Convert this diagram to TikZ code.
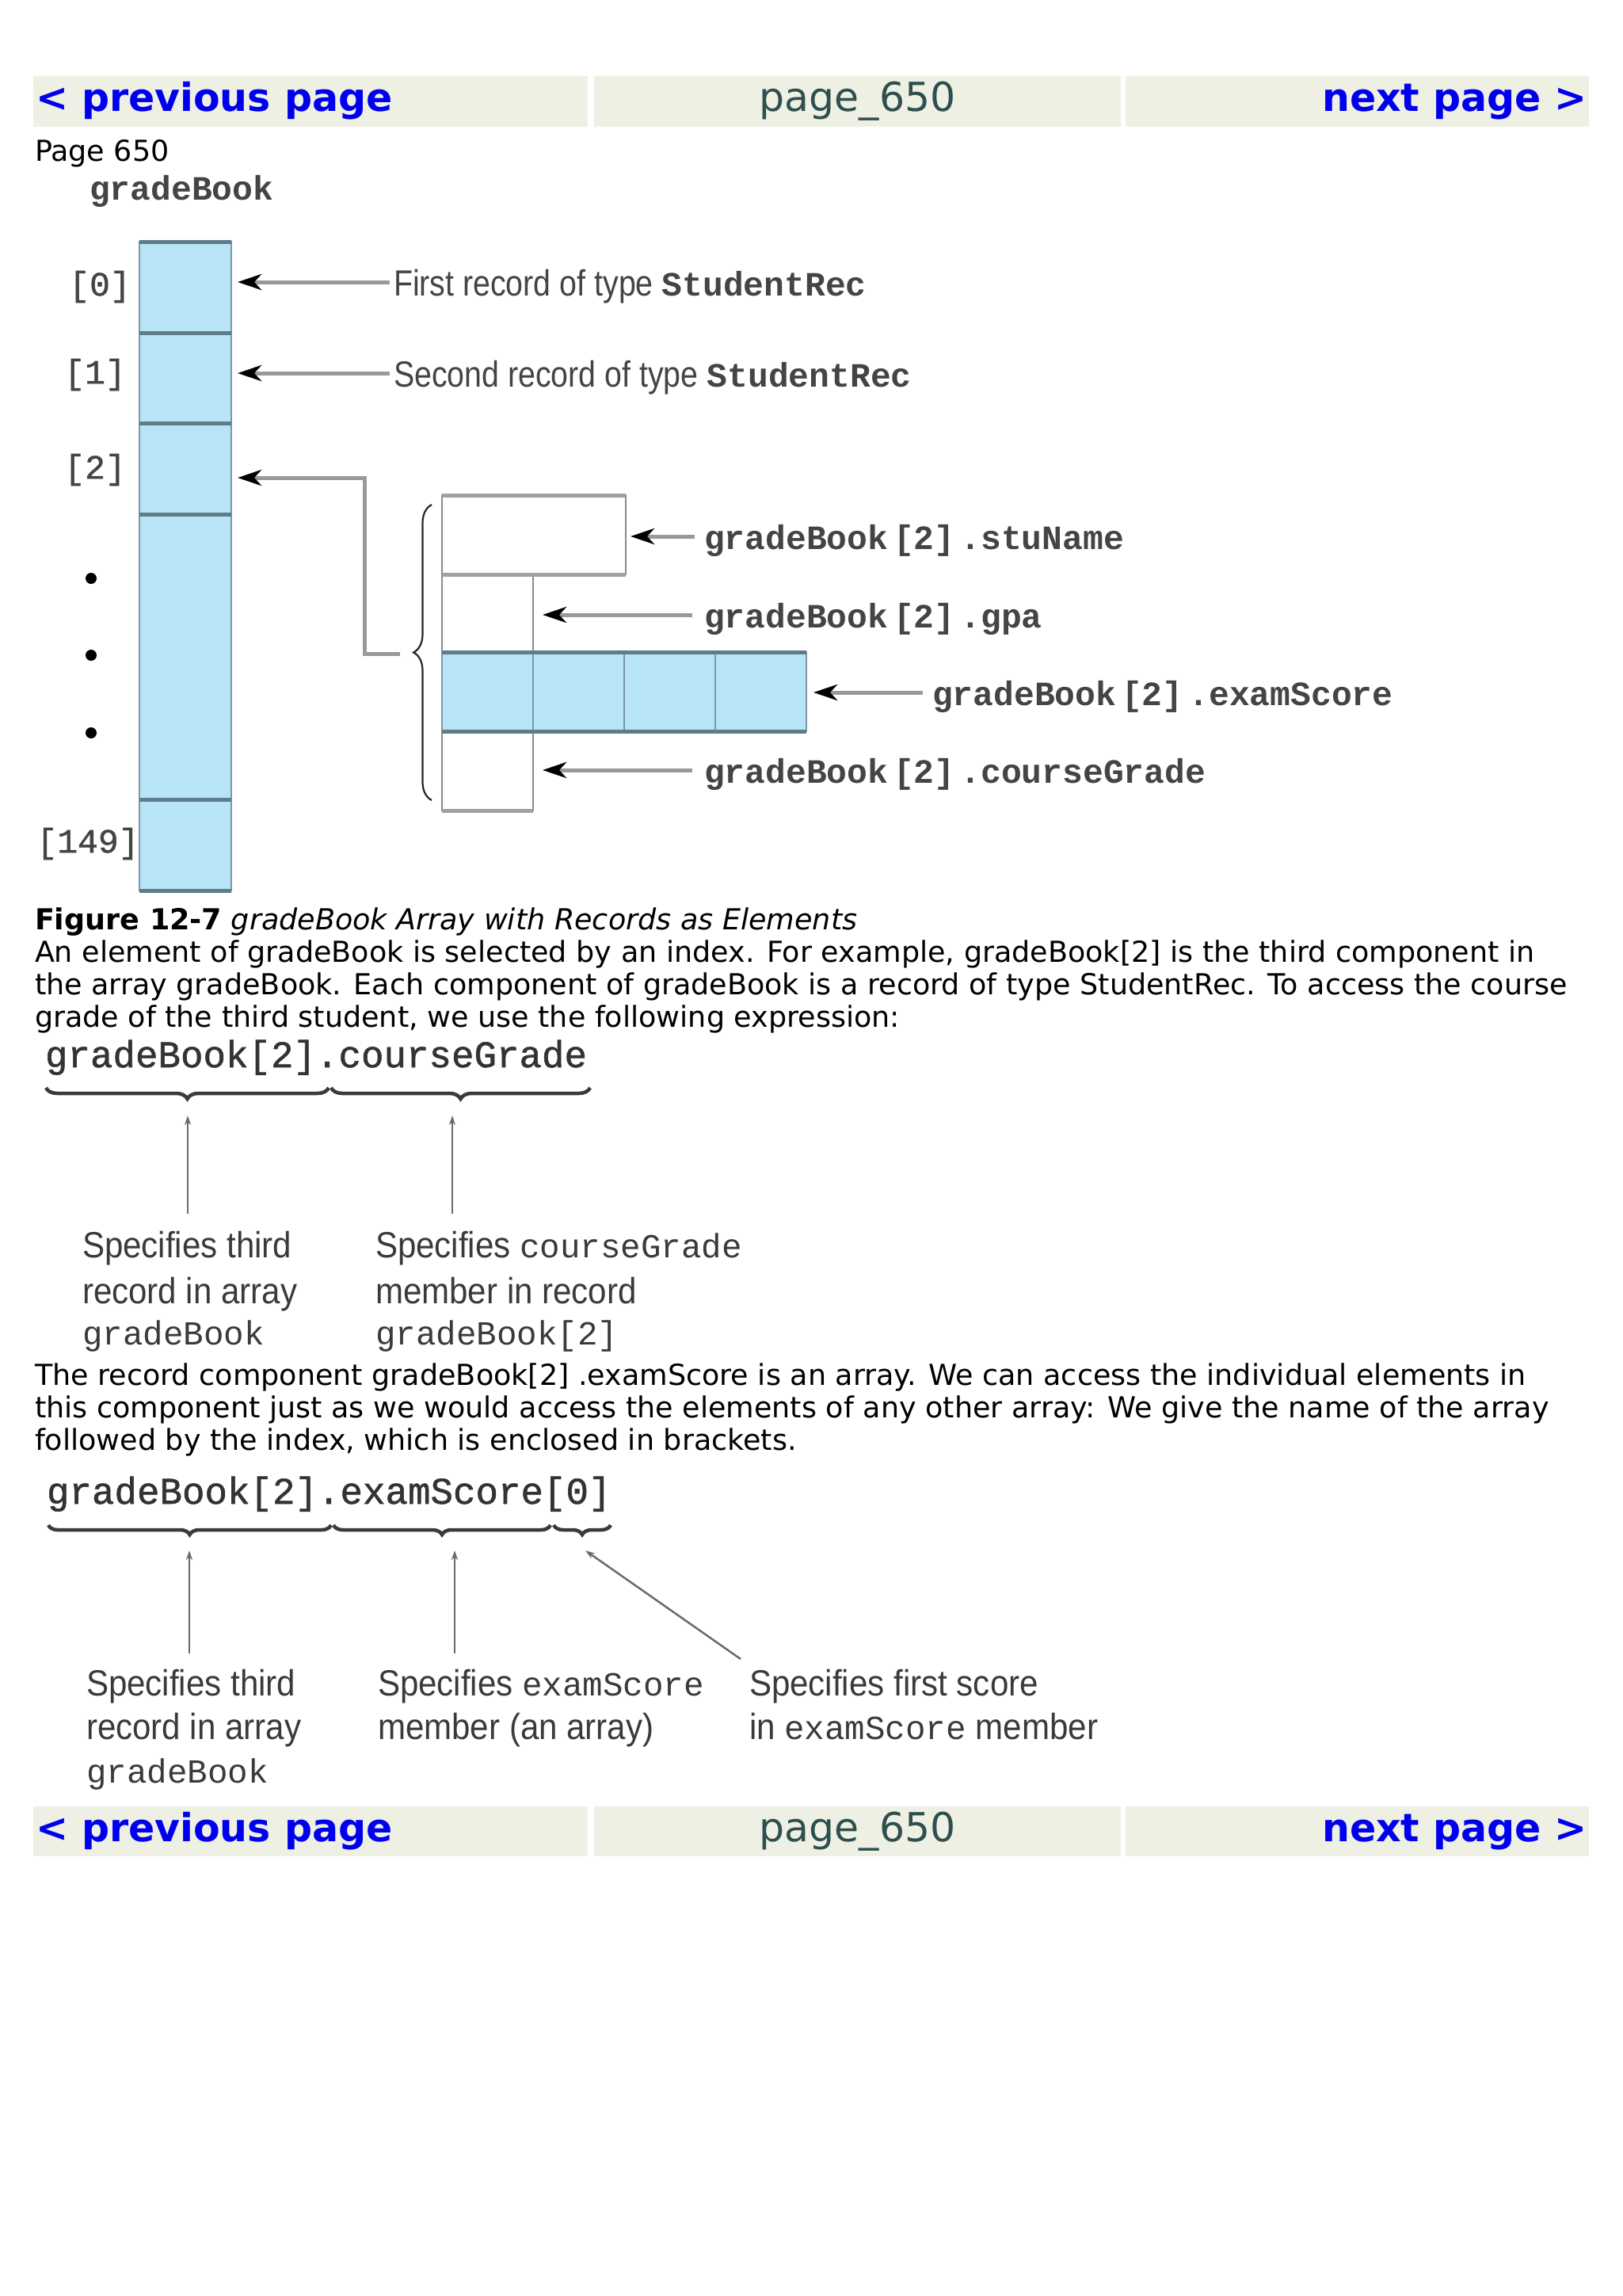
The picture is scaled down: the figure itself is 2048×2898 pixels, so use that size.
\documentclass[tikz,border=0pt]{standalone}
\usepackage{fontspec}
\setmainfont{DejaVu Sans}
\newfontfamily\cond[FakeStretch=0.855]{Liberation Sans}
\newfontfamily\condl[FakeStretch=0.915]{Liberation Sans}
\newfontfamily\monob{Liberation Mono}
\newfontfamily\monol[FakeBold=1.2]{Liberation Mono}
\newfontfamily\monop{Liberation Mono}
\usetikzlibrary{arrows.meta,decorations.pathreplacing,calc}
\definecolor{linkblue}{HTML}{0000EE}
\definecolor{hdrbg}{HTML}{EEF0E4}
\definecolor{slategr}{HTML}{2F4F4F}
\definecolor{cellblue}{HTML}{B8E4F8}
\definecolor{cellborder}{HTML}{7E98A6}
\definecolor{divdark}{HTML}{5E7C8A}
\definecolor{recgray}{HTML}{8A8A8A}
\definecolor{arrowgray}{HTML}{999999}
\definecolor{figtext}{HTML}{444444}
\definecolor{labgray}{HTML}{3A3A3A}
\definecolor{exprgray}{HTML}{333333}
\definecolor{bracegray}{HTML}{3A3A3A}
\definecolor{thingray}{HTML}{6A6A6A}
\tikzset{
  hdrcell/.style={fill=hdrbg, draw=none, anchor=north west, minimum height=64pt},
  hdrlink/.style={font={\fontsize{49}{49}\selectfont\bfseries}, text=linkblue},
  hdrmid/.style={font={\fontsize{50.5}{50.5}\selectfont}, text=slategr},
  body/.style={font={\fontsize{36.5}{36.5}\selectfont}, anchor=base west, text=black},
  arrcell/.style={fill=cellblue, draw=cellborder, line width=2.5pt, minimum width=116pt},
  divbar/.style={draw=divdark, line width=5pt},
  reccell/.style={draw=recgray, line width=2pt, fill=white},
  recbar/.style={draw=recgray!80, line width=5pt},
  figarrow/.style={draw=arrowgray, line width=5pt, -{Stealth[length=30pt,width=20pt,inset=9pt,color=black]}},
  fmono/.style={font={\fontsize{43}{43}\selectfont\monob\bfseries\fontdimen2\font=7pt}, text=figtext},
  idx/.style={font={\fontsize{43}{43}\selectfont\monol}, text=figtext},
  fcond/.style={font={\fontsize{46}{46}\selectfont\cond}, text=figtext, anchor=base west},
  expr/.style={font={\fontsize{47.5}{47.5}\selectfont\monol}, text=exprgray, anchor=base west},
  lab/.style={font={\fontsize{46}{46}\selectfont\condl}, text=labgray, anchor=base west},
  bracex/.style={decorate, decoration={brace,mirror,amplitude=14pt}, draw=bracegray, line width=4.5pt},
  upar/.style={draw=thingray, line width=2.5pt, -{Stealth[length=12pt,width=8pt]}},
  dotm/.style={circle, fill=black, minimum size=14pt}
}
\newcommand{\lmono}[1]{{\fontsize{42.5}{42.5}\selectfont\monop #1}}
\newcommand{\smono}[1]{{\fontsize{43}{43}\selectfont\monob\bfseries #1}}
\begin{document}
\begin{tikzpicture}[x=1pt,y=-1pt, every node/.style={inner sep=0pt,outer sep=0pt}]
\useasboundingbox[fill=white] (0,0) rectangle (2048,2898);

% ---------- top header ----------
\node[hdrcell, minimum width=700pt] (ht1) at (42,96) {};
\node[hdrcell, minimum width=665pt] (ht2) at (750,96) {};
\node[hdrcell, minimum width=585pt] (ht3) at (1421,96) {};
\node[hdrlink, anchor=base west] (tprev) at (45,141) {< previous page};
\node[hdrmid, anchor=base] (tpage) at ($(ht2.south)+(0,-19)$) {page\_650};
\node[hdrlink, anchor=base east] (tnext) at (2004,141) {next page >};

\node[body] (pg) at (44,204) {Page 650};

% ---------- figure 12-7 ----------
\node[fmono, anchor=base west] (gbl) at (113,252) {gradeBook};

\node[arrcell, minimum height=115pt] (c0) at (234,362.5) {};
\node[arrcell, minimum height=114pt] (c1) at (234,477) {};
\node[arrcell, minimum height=115pt] (c2) at (234,591.5) {};
\node[arrcell, minimum height=360pt] (cm) at (234,829) {};
\node[arrcell, minimum height=115pt] (c149) at (234,1066.5) {};
\foreach \c in {c0,c1,c2,cm,c149}{
  \draw[divbar] (\c.north west) -- (\c.north east);
}
\draw[divbar] (c149.south west) -- (c149.south east);

\node[idx, anchor=center] (i0) at (126,362) {[0]};
\node[idx, anchor=center] (i1) at (120,473) {[1]};
\node[idx, anchor=center] (i2) at (120,593) {[2]};
\node[idx, anchor=center] (i149) at (111,1065) {[149]};
\node[dotm] (d1) at (115,730) {};
\node[dotm] (d2) at (115,827) {};
\node[dotm] (d3) at (115,925) {};

\node[fcond] (l0) at (497,373) {First record of type \smono{StudentRec}};
\node[fcond] (l1) at (497,488) {Second record of type \smono{StudentRec}};
\draw[figarrow, shorten >=8pt] ($(l0.base west)+(-5,-17)$) coordinate (a0) -- (a0 -| c0.east);
\draw[figarrow, shorten >=8pt] ($(l1.base west)+(-5,-17)$) coordinate (a1) -- (a1 -| c1.east);

% record
\node[reccell, minimum width=232pt, minimum height=100pt] (rn) at (674,675) {};
\node[reccell, minimum width=115pt, minimum height=98pt] (rg) at (615.5,774) {};
\node[reccell, minimum width=115pt, minimum height=100pt] (rc) at (615.5,973) {};
\node[arrcell, minimum width=115pt, minimum height=100pt] (e0) at (615.5,873) {};
\node[arrcell, minimum width=115pt, minimum height=100pt] (e1) at (730.5,873) {};
\node[arrcell, minimum width=115pt, minimum height=100pt] (e2) at (845.5,873) {};
\node[arrcell, minimum width=115pt, minimum height=100pt] (e3) at (960.5,873) {};
\draw[recbar] (rn.north west) -- (rn.north east);
\draw[recbar] (rn.south west) -- (rn.south east);
\draw[divbar] (e0.north west) -- (e3.north east);
\draw[divbar] (e0.south west) -- (e3.south east);
\draw[recbar] (rc.south west) -- (rc.south east);

\draw[decorate, decoration={brace,amplitude=23pt}, draw=black!85, line width=2.2pt]
  (545,1010) -- (545,637) coordinate[pos=0.5] (bmid);
\coordinate (btip) at (505,825);
\coordinate (bend) at (460,603);
\draw[figarrow, shorten >=8pt] (btip) -- (btip -| bend) -- (bend) -- (bend -| c2.east);

\node[fmono, anchor=base west] (fn) at (889,693) {gradeBook [2] .stuName};
\node[fmono, anchor=base west] (fg) at (889,792) {gradeBook [2] .gpa};
\node[fmono, anchor=base west] (fe) at (1177,890) {gradeBook [2] .examScore};
\node[fmono, anchor=base west] (fc) at (889,988) {gradeBook [2] .courseGrade};
\draw[figarrow, shorten >=6pt] ($(fn.base west)+(-12,-16)$) coordinate (an) -- (an -| rn.east);
\draw[figarrow, shorten >=12pt] ($(fg.base west)+(-15,-16)$) coordinate (ag) -- (ag -| rg.east);
\draw[figarrow, shorten >=9pt] ($(fe.base west)+(-12,-16)$) coordinate (ae) -- (ae -| e3.east);
\draw[figarrow, shorten >=12pt] ($(fc.base west)+(-15,-16)$) coordinate (ac) -- (ac -| rc.east);

% ---------- caption and text ----------
\node[body] (cap) at (44,1173) {\textbf{Figure 12-7} \textit{gradeBook Array with Records as Elements}};
\node[body] (p1a) at (44,1214) {An element of gradeBook is selected by an index. For example, gradeBook[2] is the third component in};
\node[body] (p1b) at (44,1255) {the array gradeBook. Each component of gradeBook is a record of type StudentRec. To access the course};
\node[body] (p1c) at (44,1296) {grade of the third student, we use the following expression:};

% ---------- expression 1 ----------
\node[expr] (x1) at (57,1347) {gradeBook[2].courseGrade};
\draw[bracex] (58,1373) -- (415,1373) coordinate[pos=0.5] (b1);
\draw[bracex] (418,1373) -- (745,1373) coordinate[pos=0.5] (b2);
\coordinate (u1) at (237,1408);
\coordinate (u2) at (571,1408);
\node[lab] (s1a) at (104,1587) {Specifies third};
\node[lab] (s1b) at (104,1645) {record in array};
\node[lab] (s1c) at (104,1697) {\lmono{gradeBook}};
\node[lab] (s2a) at (474,1587) {Specifies \lmono{courseGrade}};
\node[lab] (s2b) at (474,1645) {member in record};
\node[lab] (s2c) at (474,1697) {\lmono{gradeBook[2]}};
\draw[upar] (s1a.north -| u1) ++(0,-22) -- (u1);
\draw[upar] (s2a.north -| u2) ++(0,-22) -- (u2);

% ---------- paragraph 2 ----------
\node[body] (p2a) at (44,1748) {The record component gradeBook[2] .examScore is an array. We can access the individual elements in};
\node[body] (p2b) at (44,1789) {this component just as we would access the elements of any other array: We give the name of the array};
\node[body] (p2c) at (44,1830) {followed by the index, which is enclosed in brackets.};

% ---------- expression 2 ----------
\node[expr] (x2) at (59,1898) {gradeBook[2].examScore[0]};
\draw[bracex, decoration={amplitude=12pt}] (61,1925) -- (418,1925) coordinate[pos=0.5] (b3);
\draw[bracex, decoration={amplitude=12pt}] (421,1925) -- (695,1925) coordinate[pos=0.5] (b4);
\draw[bracex, decoration={amplitude=12pt}] (699,1925) -- (771,1925) coordinate[pos=0.5] (b5);
\coordinate (u3) at (239,1957);
\coordinate (u4) at (574,1957);
\coordinate (u5) at (739,1957);
\node[lab] (t1a) at (109,2140) {Specifies third};
\node[lab] (t1b) at (109,2195) {record in array};
\node[lab] (t1c) at (109,2250) {\lmono{gradeBook}};
\node[lab] (t2a) at (477,2140) {Specifies \lmono{examScore}};
\node[lab] (t2b) at (477,2195) {member (an array)};
\node[lab] (t3a) at (946,2140) {Specifies first score};
\node[lab] (t3b) at (946,2195) {in \lmono{examScore} member};
\draw[upar] (t1a.north -| u3) ++(0,-20) -- (u3);
\draw[upar] (t2a.north -| u4) ++(0,-20) -- (u4);
\coordinate (v5) at (935,2094);
\draw[upar] (v5) -- (u5);

% ---------- bottom header ----------
\node[hdrcell, minimum width=700pt, minimum height=63pt] (hb1) at (42,2280) {};
\node[hdrcell, minimum width=665pt, minimum height=63pt] (hb2) at (750,2280) {};
\node[hdrcell, minimum width=585pt, minimum height=63pt] (hb3) at (1421,2280) {};
\node[hdrlink, anchor=base west] (bprev) at (45,2324) {< previous page};
\node[hdrmid, anchor=base] (bpage) at ($(hb2.south)+(0,-19)$) {page\_650};
\node[hdrlink, anchor=base east] (bnext) at (2004,2324) {next page >};
\end{tikzpicture}
\end{document}
